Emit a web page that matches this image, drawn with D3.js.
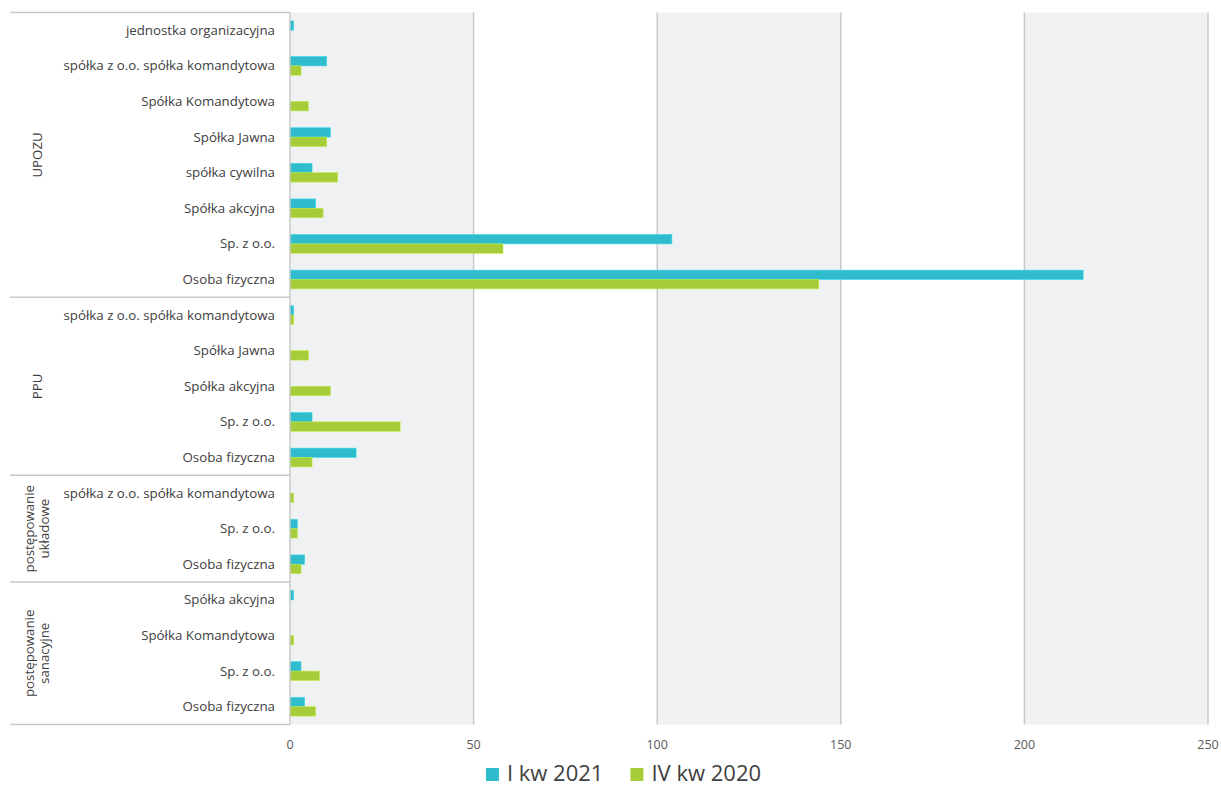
<!DOCTYPE html>
<html>
<head>
<meta charset="utf-8">
<script src="https://cdn.jsdelivr.net/npm/d3@7"></script>
<style>
  html, body { margin: 0; padding: 0; background: #fff; }
  svg { display: block; font-family: "Open Sans", "Noto Sans", sans-serif; }
</style>
</head>
<body>
<svg id="chart" width="1221" height="787"></svg>
<script>
// Proceedings grouped by type; each row is a legal form of the debtor
const groups = ["UPOZU", "PPU", "postępowanie układowe", "postępowanie sanacyjne"];
const groupLines = [["UPOZU"], ["PPU"], ["postępowanie", "układowe"], ["postępowanie", "sanacyjne"]];
const groupOf = [0,0,0,0,0,0,0,0, 1,1,1,1,1, 2,2,2, 3,3,3,3];
const categories = [
  "jednostka organizacyjna", "spółka z o.o. spółka komandytowa", "Spółka Komandytowa",
  "Spółka Jawna", "spółka cywilna", "Spółka akcyjna", "Sp. z o.o.", "Osoba fizyczna",
  "spółka z o.o. spółka komandytowa", "Spółka Jawna", "Spółka akcyjna", "Sp. z o.o.", "Osoba fizyczna",
  "spółka z o.o. spółka komandytowa", "Sp. z o.o.", "Osoba fizyczna",
  "Spółka akcyjna", "Spółka Komandytowa", "Sp. z o.o.", "Osoba fizyczna"
];
const seriesNames = ["I kw 2021", "IV kw 2020"];
const q1_2021 = [1, 10, 0, 11, 6, 7, 104, 216,  1, 0, 0, 6, 18,  0, 2, 4,  1, 0, 3, 4];
const q4_2020 = [0, 3, 5, 10, 13, 9, 58, 144,   1, 5, 11, 30, 6,  1, 2, 3,  0, 1, 8, 7];
const xTicks = [0, 50, 100, 150, 200, 250];
const colors = ["#2fbccd", "#a6cd39"];

const svg = d3.select("#chart");
const plotLeft = 290, plotRight = 1208, plotTop = 12.5, plotBottom = 724.5;

const x = d3.scaleLinear().domain([0, 250]).range([plotLeft, plotRight]);
const rowIds = d3.range(categories.length);
const y = d3.scaleBand().domain(rowIds).range([plotTop, plotBottom]).paddingInner(0).paddingOuter(0);
const inner = d3.scaleBand().domain([0, 1]).range([0, y.bandwidth()]).paddingInner(0).paddingOuter(0.9);

// alternating vertical bands
const bands = d3.range(0, xTicks.length - 1).filter(i => i % 2 === 0);
svg.append("g").selectAll("rect").data(bands).join("rect")
  .attr("x", i => x(xTicks[i]))
  .attr("y", plotTop)
  .attr("width", i => x(xTicks[i + 1]) - x(xTicks[i]))
  .attr("height", plotBottom - plotTop)
  .attr("fill", "#f0f1f3");

// gridlines
svg.append("g").selectAll("line").data(xTicks.slice(1)).join("line")
  .attr("x1", d => x(d)).attr("x2", d => x(d))
  .attr("y1", plotTop).attr("y2", plotBottom)
  .attr("stroke", "#c9c9c9").attr("stroke-width", 1.5);

// bars
const series = [q1_2021, q4_2020];
series.forEach((vals, s) => {
  svg.append("g").selectAll("rect").data(rowIds).join("rect")
    .attr("x", x(0))
    .attr("y", i => y(i) + inner(s))
    .attr("width", i => x(vals[i]) - x(0))
    .attr("height", inner.bandwidth())
    .attr("fill", colors[s])
    .attr("stroke", d3.color(colors[s]).brighter(0.4))
    .attr("stroke-width", 0.6)
    .attr("display", i => vals[i] > 0 ? null : "none");
});

// value axis line at zero
svg.append("line")
  .attr("x1", x(0)).attr("x2", x(0))
  .attr("y1", plotTop).attr("y2", plotBottom)
  .attr("stroke", "#c9c9c9").attr("stroke-width", 1.5);

// x tick labels
svg.append("g").selectAll("text").data(xTicks).join("text")
  .attr("x", d => x(d))
  .attr("y", 749)
  .attr("text-anchor", "middle")
  .attr("font-size", 12.5)
  .attr("fill", "#595959")
  .text(d => d);

// category labels
svg.append("g").selectAll("text").data(rowIds).join("text")
  .attr("x", 275)
  .attr("y", i => y(i) + y.bandwidth() / 2 + 4.5)
  .attr("text-anchor", "end")
  .attr("font-size", 13.3)
  .attr("fill", "#404040")
  .text(i => categories[i]);

// group boundaries and labels
const groupStarts = groups.map((g, gi) => rowIds.find(i => groupOf[i] === gi));
const groupEnds = groups.map((g, gi) => rowIds.filter(i => groupOf[i] === gi).slice(-1)[0]);
const boundaries = [plotTop].concat(groupEnds.map(i => y(i) + y.bandwidth()));
svg.append("g").selectAll("line").data(boundaries).join("line")
  .attr("x1", 10).attr("x2", x(0))
  .attr("y1", d => d).attr("y2", d => d)
  .attr("stroke", "#c9c9c9").attr("stroke-width", 1.5);

groups.forEach((g, gi) => {
  const cy = (y(groupStarts[gi]) + y(groupEnds[gi]) + y.bandwidth()) / 2;
  const lines = groupLines[gi];
  const lh = 15;
  const t = svg.append("text")
    .attr("transform", `translate(37,${cy}) rotate(-90)`)
    .attr("text-anchor", "middle")
    .attr("font-size", 13.3)
    .attr("fill", "#404040");
  lines.forEach((ln, k) => {
    t.append("tspan")
      .attr("x", 0)
      .attr("y", (k - (lines.length - 1) / 2) * lh + 4.5)
      .text(ln);
  });
});

// legend
const legend = svg.append("g");
const items = legend.selectAll("g").data(seriesNames).join("g");
items.append("rect")
  .attr("y", 1)
  .attr("width", 13).attr("height", 13)
  .attr("fill", (d, i) => colors[i]);
items.append("text")
  .attr("x", 21).attr("y", 14)
  .attr("font-size", 22)
  .attr("fill", "#404040")
  .text(d => d);
const widths = [];
items.each(function () { widths.push(this.getBBox().width); });
const gap = 27;
const total = d3.sum(widths) + gap * (widths.length - 1);
let cx = 623.5 - total / 2;
items.attr("transform", (d, i) => {
  const tx = cx; cx += widths[i] + gap;
  return `translate(${tx},${767})`;
});
</script>
</body>
</html>
